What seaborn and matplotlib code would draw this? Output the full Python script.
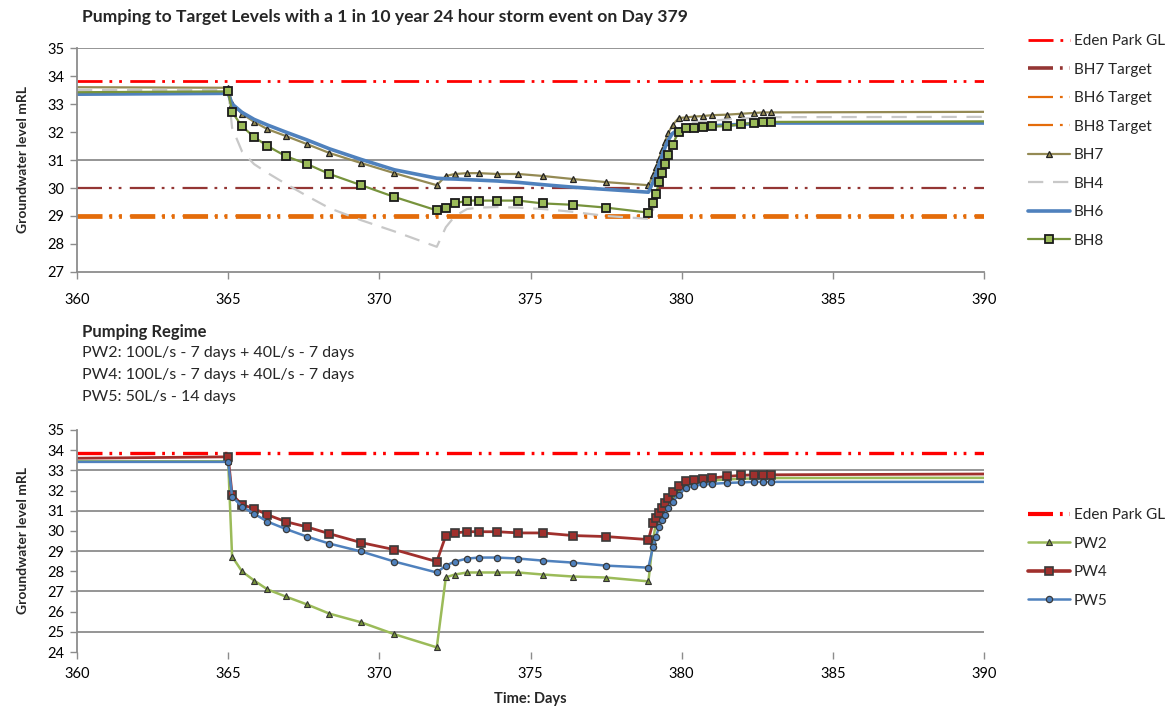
import matplotlib
matplotlib.use("Agg")
import matplotlib.pyplot as plt
import seaborn as sns
from matplotlib.lines import Line2D

# ---------------- data ----------------
days = [360, 365, 365.13, 365.46, 365.86, 366.3, 366.9, 367.6, 368.35, 369.4, 370.5,
        371.9, 372.2, 372.5, 372.9, 373.3, 373.9, 374.6, 375.4, 376.4, 377.5, 378.9,
        379.05, 379.15, 379.25, 379.35, 379.45, 379.55, 379.7, 379.9, 380.15, 380.4,
        380.7, 381.0, 381.5, 381.95, 382.4, 382.7, 382.95, 390]

bh7 = [33.6, 33.58, 33.0, 32.65, 32.36, 32.1, 31.86, 31.57, 31.25, 30.89, 30.53,
       30.1, 30.43, 30.5, 30.53, 30.53, 30.5, 30.5, 30.43, 30.32, 30.21, 30.1,
       30.45, 30.75, 31.05, 31.35, 31.65, 31.95, 32.25, 32.5, 32.52, 32.55,
       32.57, 32.6, 32.62, 32.65, 32.68, 32.7, 32.7, 32.72]
bh4 = [33.5, 33.5, 32.15, 31.3, 30.85, 30.54, 30.15, 29.72, 29.28, 28.85, 28.45,
       27.9, 28.6, 29.0, 29.25, 29.3, 29.32, 29.3, 29.25, 29.15, 29.0, 28.9,
       29.2, 29.6, 30.0, 30.4, 30.8, 31.2, 31.6, 32.0, 32.3, 32.35,
       32.38, 32.4, 32.45, 32.48, 32.5, 32.52, 32.53, 32.54]
bh6 = [33.35, 33.38, 33.0, 32.7, 32.45, 32.25, 32.0, 31.72, 31.4, 31.02, 30.65,
       30.35, 30.33, 30.32, 30.3, 30.28, 30.25, 30.2, 30.12, 30.03, 29.95, 29.85,
       30.2, 30.5, 30.85, 31.15, 31.45, 31.7, 31.95, 32.1, 32.15, 32.17,
       32.2, 32.22, 32.25, 32.27, 32.3, 32.3, 32.32, 32.32]
bh8 = [33.42, 33.45, 32.71, 32.2, 31.82, 31.5, 31.14, 30.86, 30.5, 30.1, 29.68,
       29.2, 29.3, 29.45, 29.55, 29.55, 29.55, 29.55, 29.45, 29.4, 29.3, 29.12,
       29.46, 29.8, 30.2, 30.55, 30.86, 31.18, 31.55, 32.0, 32.14, 32.15,
       32.17, 32.2, 32.21, 32.28, 32.32, 32.35, 32.36, 32.38]

pw2 = [33.45, 33.45, 28.73, 27.99, 27.54, 27.1, 26.75, 26.36, 25.9, 25.47, 24.88,
       24.23, 27.7, 27.84, 27.94, 27.94, 27.94, 27.94, 27.84, 27.74, 27.69, 27.5,
       29.5, 30.4, 30.75, 31.0, 31.25, 31.5, 31.8, 32.1, 32.3, 32.4,
       32.45, 32.5, 32.55, 32.58, 32.6, 32.62, 32.62, 32.63]
pw4 = [33.6, 33.67, 31.8, 31.3, 31.1, 30.8, 30.46, 30.2, 29.86, 29.42, 29.07,
       28.48, 29.77, 29.9, 29.96, 29.96, 29.96, 29.9, 29.9, 29.77, 29.72, 29.57,
       30.4, 30.65, 30.9, 31.15, 31.4, 31.64, 31.95, 32.23, 32.48, 32.52,
       32.58, 32.62, 32.7, 32.75, 32.78, 32.78, 32.78, 32.82]
pw5 = [33.42, 33.42, 31.7, 31.2, 30.85, 30.46, 30.1, 29.72, 29.37, 28.98, 28.48,
       27.94, 28.28, 28.48, 28.63, 28.68, 28.68, 28.63, 28.53, 28.43, 28.28, 28.18,
       29.2, 29.7, 30.2, 30.55, 30.8, 31.15, 31.44, 31.8, 32.14, 32.23,
       32.3, 32.33, 32.38, 32.4, 32.43, 32.43, 32.43, 32.43]

x_span = [360, 390]
eden_park_gl = 33.82
bh7_target = 30.0
bh6_target = 29.0
bh8_target = 29.0
eden_park_gl_2 = 33.86

x_ticks = [360, 365, 370, 375, 380, 385, 390]
top_yticks = [27, 28, 29, 30, 31, 32, 33, 34, 35]
top_grid = [31, 35]
bot_yticks = [24, 25, 26, 27, 28, 29, 30, 31, 32, 33, 34, 35]
bot_grid = [25, 27, 29, 31, 33]

title = "Pumping to Target Levels with a 1 in 10 year 24 hour storm event on Day 379"
regime = ["Pumping Regime",
          "PW2: 100L/s - 7 days + 40L/s - 7 days",
          "PW4: 100L/s - 7 days + 40L/s - 7 days",
          "PW5: 50L/s - 14 days"]
ylabel = "Groundwater level mRL"
xlabel = "Time: Days"

# ---------------- style ----------------
sns.set_theme(style="white")
plt.rcParams["font.family"] = ["Lato", "DejaVu Sans"]
plt.rcParams["lines.scale_dashes"] = False

W, H = 1169, 711
fig = plt.figure(figsize=(W / 100, H / 100), dpi=100)

def frac(l, t, r, b):
    return [l / W, 1 - b / H, (r - l) / W, (b - t) / H]

ax1 = fig.add_axes(frac(77, 48, 984, 272))
ax2 = fig.add_axes(frac(77, 430, 984, 652))

GRID = "#8c8c8c"
DDOT = (0, (18, 5, 2, 5, 2, 6))
GDASH = (0, (11, 7))
mk_idx = list(range(1, len(days) - 1))

C_RED = "#ff0000"
C_DRED = "#943634"
C_ORANGE = "#e46c0a"
C_OLIVE = "#948a54"
C_GRAY = "#c8c8c8"
C_BLUE = "#4f81bd"
C_GREEN = "#77933c"
C_GREEN_L = "#9bbb59"
C_BRICK = "#a0302d"

# ---- top chart ----
for v in top_grid:
    ax1.axhline(v, color=GRID, lw=1.3, zorder=0)

sns.lineplot(x=x_span, y=[eden_park_gl] * 2, ax=ax1, color=C_RED, lw=2.0, linestyle=DDOT)
sns.lineplot(x=x_span, y=[bh7_target] * 2, ax=ax1, color=C_DRED, lw=1.6, linestyle=DDOT)
sns.lineplot(x=x_span, y=[bh6_target] * 2, ax=ax1, color=C_ORANGE, lw=3.4, linestyle=DDOT)
sns.lineplot(x=x_span, y=[bh8_target] * 2, ax=ax1, color=C_ORANGE, lw=1.6, linestyle=DDOT)
sns.lineplot(x=days, y=bh7, ax=ax1, color=C_OLIVE, lw=1.6, marker="^", markersize=4,
             markerfacecolor=C_OLIVE, markeredgecolor="#222222", markeredgewidth=0.9,
             markevery=mk_idx)
sns.lineplot(x=days, y=bh4, ax=ax1, color=C_GRAY, lw=1.6, linestyle=GDASH)
sns.lineplot(x=days, y=bh6, ax=ax1, color=C_BLUE, lw=2.6)
sns.lineplot(x=days, y=bh8, ax=ax1, color=C_GREEN, lw=1.6, marker="s", markersize=5.5,
             markerfacecolor=C_GREEN_L, markeredgecolor="#1a1a1a", markeredgewidth=1.3,
             markevery=mk_idx)

ax1.set_xlim(360, 390)
ax1.set_ylim(27, 35)
ax1.set_xticks(x_ticks)
ax1.set_yticks(top_yticks)

# ---- bottom chart ----
for v in bot_grid:
    ax2.axhline(v, color=GRID, lw=1.3, zorder=0)

sns.lineplot(x=x_span, y=[eden_park_gl_2] * 2, ax=ax2, color=C_RED, lw=2.4, linestyle=DDOT)
sns.lineplot(x=days, y=pw2, ax=ax2, color=C_GREEN_L, lw=1.8, marker="^", markersize=4,
             markerfacecolor=C_GREEN, markeredgecolor="#333333", markeredgewidth=0.8,
             markevery=mk_idx)
sns.lineplot(x=days, y=pw4, ax=ax2, color=C_BRICK, lw=2.0, marker="s", markersize=5.5,
             markerfacecolor=C_BRICK, markeredgecolor="#3a3a3a", markeredgewidth=1.2,
             markevery=mk_idx)
sns.lineplot(x=days, y=pw5, ax=ax2, color=C_BLUE, lw=1.8, marker="o", markersize=4.5,
             markerfacecolor=C_BLUE, markeredgecolor="#3a3a3a", markeredgewidth=0.9,
             markevery=mk_idx)

ax2.set_xlim(360, 390)
ax2.set_ylim(24, 35)
ax2.set_xticks(x_ticks)
ax2.set_yticks(bot_yticks)

for ax in (ax1, ax2):
    ax.set_xlabel("")
    ax.set_ylabel(ylabel, fontsize=10, fontweight="bold", labelpad=13)
    for s in ("top", "right"):
        ax.spines[s].set_visible(False)
    ax.spines["left"].set_color(GRID)
    ax.spines["left"].set_linewidth(1.3)
    ax.spines["bottom"].set_color(GRID)
    ax.spines["bottom"].set_linewidth(1.3)
    ax.tick_params(axis="both", which="major", direction="out", length=5, width=1,
                   color=GRID, labelsize=10.5, labelcolor="#000000", left=True, bottom=True)
    ax.tick_params(axis="y", pad=4)
    ax.grid(False)
    ax.set_facecolor("white")

ax1.tick_params(axis="x", pad=10)
ax2.tick_params(axis="x", pad=6)
ax2.spines["bottom"].set_visible(False)

ax2.text(0.5, 1 - (699 - 430) / 222, xlabel, transform=ax2.transAxes, ha="center",
         va="center", fontsize=10.5, fontweight="bold")

fig.text(82 / W, 1 - 17 / H, title, ha="left", va="center", fontsize=12.6, fontweight="bold")
for i, line in enumerate(regime):
    fig.text(82 / W, 1 - (332 + 21.5 * i) / H, line, ha="left", va="center",
             fontsize=12 if i == 0 else 11.5, fontweight="bold" if i == 0 else "normal")

# ---- legends ----
def h(**kw):
    return Line2D([0], [0], **kw)

top_handles = [
    h(color=C_RED, lw=2.0, linestyle=DDOT),
    h(color=C_DRED, lw=2.6, linestyle=DDOT),
    h(color=C_ORANGE, lw=1.6, linestyle=DDOT),
    h(color=C_ORANGE, lw=1.6, linestyle=DDOT),
    h(color=C_OLIVE, lw=1.6, marker="^", markersize=4, markerfacecolor=C_OLIVE,
      markeredgecolor="#222222", markeredgewidth=0.9),
    h(color=C_GRAY, lw=1.6, linestyle=GDASH),
    h(color=C_BLUE, lw=2.6),
    h(color=C_GREEN, lw=1.6, marker="s", markersize=5.5, markerfacecolor=C_GREEN_L,
      markeredgecolor="#1a1a1a", markeredgewidth=1.3),
]
top_labels = ["Eden Park GL", "BH7 Target", "BH6 Target", "BH8 Target",
              "BH7", "BH4", "BH6", "BH8"]
bot_handles = [
    h(color=C_RED, lw=3.0, linestyle=DDOT),
    h(color=C_GREEN_L, lw=1.8, marker="^", markersize=4, markerfacecolor=C_GREEN,
      markeredgecolor="#333333", markeredgewidth=0.8),
    h(color=C_BRICK, lw=2.6, marker="s", markersize=5.5, markerfacecolor=C_BRICK,
      markeredgecolor="#3a3a3a", markeredgewidth=1.2),
    h(color=C_BLUE, lw=1.8, marker="o", markersize=4.5, markerfacecolor=C_BLUE,
      markeredgecolor="#3a3a3a", markeredgewidth=0.9),
]
bot_labels = ["Eden Park GL", "PW2", "PW4", "PW5"]

leg_kw = dict(frameon=False, fontsize=11, handlelength=2.75, handletextpad=0.25,
              labelspacing=0.95, numpoints=1, borderaxespad=0, borderpad=0)
fig.legend(top_handles, top_labels, loc="upper left",
           bbox_to_anchor=(1028 / W, 1 - 34 / H), **leg_kw)
fig.legend(bot_handles, bot_labels, loc="upper left",
           bbox_to_anchor=(1028 / W, 1 - 508 / H), **leg_kw)

fig.savefig("out.png", dpi=100, facecolor="white")
